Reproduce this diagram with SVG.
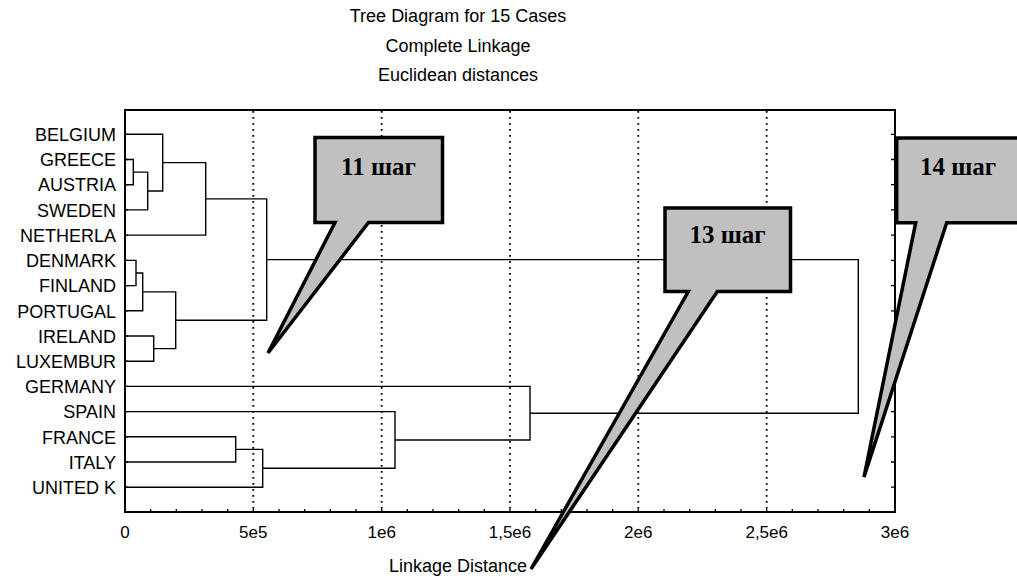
<svg xmlns="http://www.w3.org/2000/svg" width="1017" height="579" viewBox="0 0 1017 579">
<style>
.t{font-family:"Liberation Sans",Arial,sans-serif;font-size:18px;fill:#000}
.lbl{text-anchor:end}
.c{text-anchor:middle}
.tk{font-family:"Liberation Sans",Arial,sans-serif;font-size:17px;fill:#000;text-anchor:middle}
.den{fill:none;stroke:#000;stroke-width:1.4}
.grid{stroke:#000;stroke-width:1.8;stroke-dasharray:1.8 4.2}
.tick{stroke:#000;stroke-width:1.3}
.frame{fill:none;stroke:#000;stroke-width:2}
.call{fill:#c0c0c0;stroke:#000;stroke-width:3.5;stroke-linejoin:miter}
.ct{font-family:"Liberation Serif","Times New Roman",serif;font-weight:bold;font-size:25px;fill:#000;text-anchor:middle}
</style>
<rect width="1017" height="579" fill="#fff"/>
<g id="title">
<text class="t c" x="458" y="22">Tree Diagram for 15 Cases</text>
<text class="t c" x="458" y="52">Complete Linkage</text>
<text class="t c" x="458" y="81">Euclidean distances</text>
</g>
<g id="grid">
<line class="grid" x1="253.3" y1="111" x2="253.3" y2="511"/>
<line class="grid" x1="381.7" y1="111" x2="381.7" y2="511"/>
<line class="grid" x1="510" y1="111" x2="510" y2="511"/>
<line class="grid" x1="638.3" y1="111" x2="638.3" y2="511"/>
<line class="grid" x1="766.7" y1="111" x2="766.7" y2="511"/>
</g>
<g id="axes">
<rect class="frame" x="125" y="110" width="770" height="402"/>
<path class="tick" d="M150.7,512v-3M176.3,512v-3M202,512v-3M227.7,512v-3M253.3,512v-3M279,512v-3M304.7,512v-3M330.3,512v-3M356,512v-3M381.7,512v-3M407.3,512v-3M433,512v-3M458.7,512v-3M484.3,512v-3M510,512v-3M535.7,512v-3M561.3,512v-3M587,512v-3M612.7,512v-3M638.3,512v-3M664,512v-3M689.7,512v-3M715.3,512v-3M741,512v-3M766.7,512v-3M792.3,512v-3M818,512v-3M843.7,512v-3M869.3,512v-3"/>
<path class="tick" d="M125,134.3h3M125,159.5h3M125,184.7h3M125,209.9h3M125,235.1h3M125,260.4h3M125,285.6h3M125,310.8h3M125,336h3M125,361.2h3M125,386.4h3M125,411.6h3M125,436.8h3M125,462h3M125,487.2h3"/>
<path class="tick" d="M895,134.3h-4M895,159.5h-4M895,184.7h-4M895,209.9h-4M895,235.1h-4M895,260.4h-4M895,285.6h-4M895,310.8h-4M895,336h-4M895,361.2h-4M895,386.4h-4M895,411.6h-4M895,436.8h-4M895,462h-4M895,487.2h-4"/>
<text class="tk" x="125" y="538">0</text>
<text class="tk" x="253.3" y="538">5e5</text>
<text class="tk" x="381.7" y="538">1e6</text>
<text class="tk" x="510" y="538">1,5e6</text>
<text class="tk" x="638.3" y="538">2e6</text>
<text class="tk" x="766.7" y="538">2,5e6</text>
<text class="tk" x="895" y="538">3e6</text>
<text class="t c" x="458" y="572">Linkage Distance</text>
</g>
<g id="labels">
<text class="t lbl" x="116" y="141">BELGIUM</text>
<text class="t lbl" x="116" y="166.2">GREECE</text>
<text class="t lbl" x="116" y="191.4">AUSTRIA</text>
<text class="t lbl" x="116" y="216.6">SWEDEN</text>
<text class="t lbl" x="116" y="241.8">NETHERLA</text>
<text class="t lbl" x="116" y="267.1">DENMARK</text>
<text class="t lbl" x="116" y="292.3">FINLAND</text>
<text class="t lbl" x="116" y="317.5">PORTUGAL</text>
<text class="t lbl" x="116" y="342.7">IRELAND</text>
<text class="t lbl" x="116" y="367.9">LUXEMBUR</text>
<text class="t lbl" x="116" y="393.1">GERMANY</text>
<text class="t lbl" x="116" y="418.3">SPAIN</text>
<text class="t lbl" x="116" y="443.5">FRANCE</text>
<text class="t lbl" x="116" y="468.7">ITALY</text>
<text class="t lbl" x="116" y="493.9">UNITED K</text>
</g>
<g id="connectors">
<path class="den" d="M125,159.5H133.3V184.7H125"/>
<path class="den" d="M133.3,172.1H147.7V209.9H125"/>
<path class="den" d="M125,134.3H162.7V191H147.7"/>
<path class="den" d="M162.7,162.65H205.7V235.1H125"/>
<path class="den" d="M125,260.4H136V285.6H125"/>
<path class="den" d="M136,273H142.7V310.8H125"/>
<path class="den" d="M125,336H153.7V361.2H125"/>
<path class="den" d="M142.7,291.9H175.7V348.6H153.7"/>
<path class="den" d="M205.7,198.9H266.7V320.25H175.7"/>
<path class="den" d="M125,436.8H235.7V462H125"/>
<path class="den" d="M235.7,449.4H262.7V487.2H125"/>
<path class="den" d="M125,411.6H395V468.3H262.7"/>
<path class="den" d="M125,386.4H530V440H395"/>
<path class="den" d="M266.7,259.6H858.3V413.2H530"/>
</g>
<g id="callout11">
<path class="call" d="M315,137.5H442.5V222.5H368.5L268,353L335,222.5H315Z"/>
<text class="ct" x="378.5" y="175">11 шаг</text>
</g>
<g id="callout13">
<path class="call" d="M665,208H790.5V291.5H717.3L531,569L688.3,291.5H665Z"/>
<text class="ct" x="727.5" y="242.7">13 шаг</text>
</g>
<g id="callout14">
<path class="call" d="M896.7,138H1030V222.7H946.7L864,477L915.7,222.7H896.7Z"/>
<text class="ct" x="958" y="175">14 шаг</text>
</g>
</svg>
